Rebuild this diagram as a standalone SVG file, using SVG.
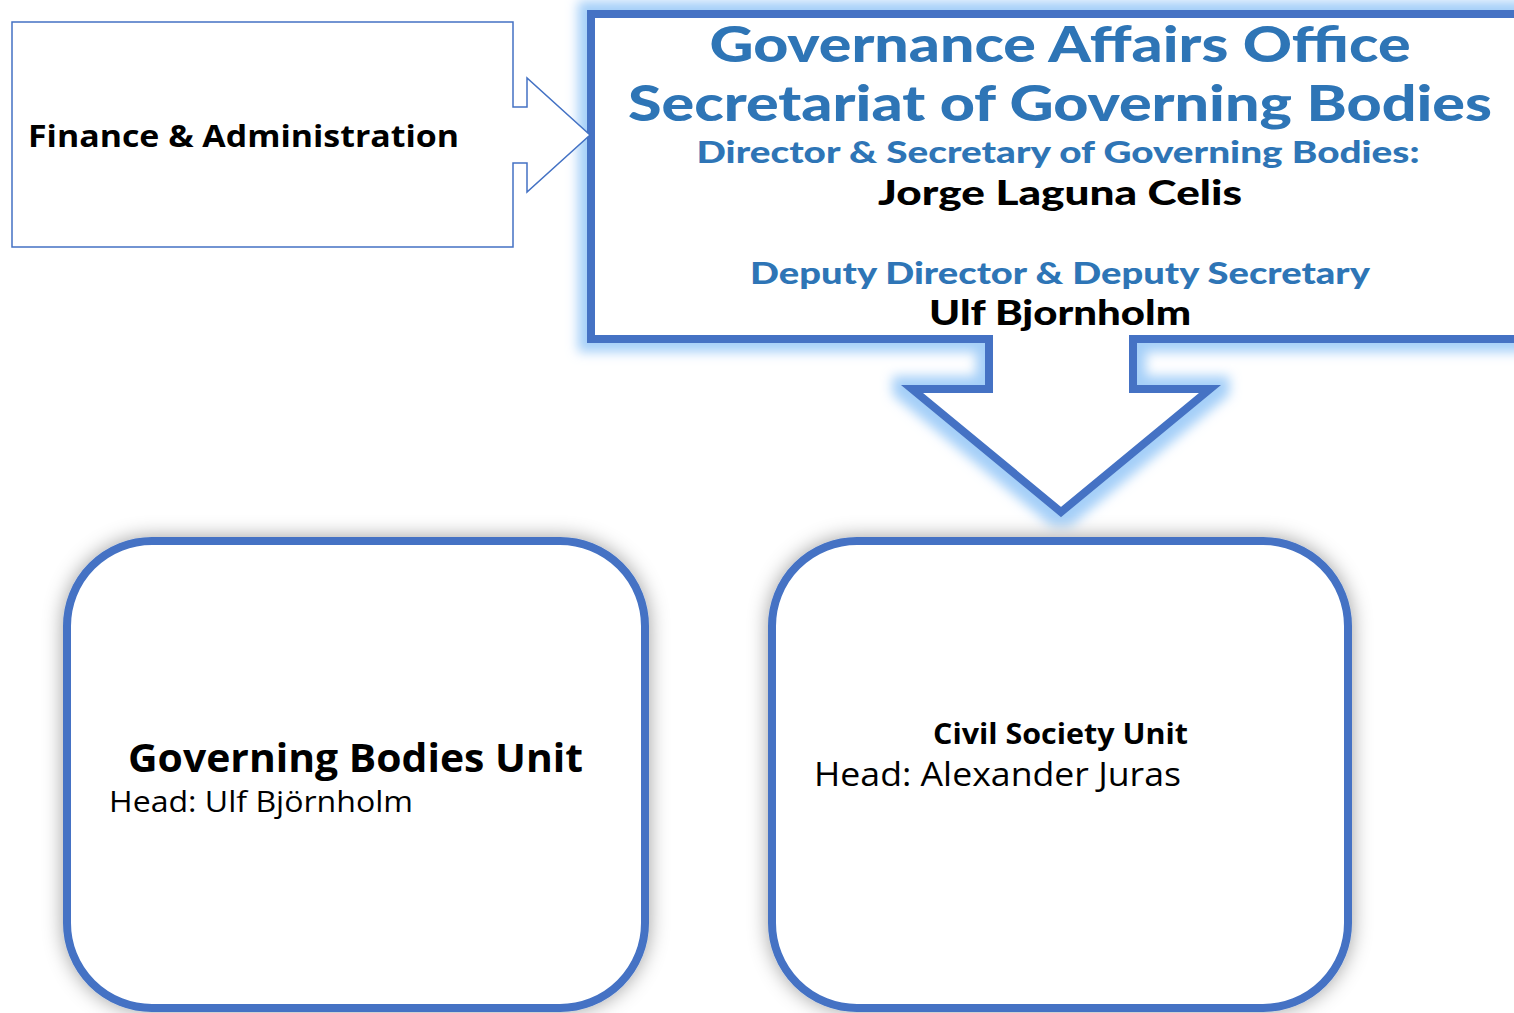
<svg xmlns="http://www.w3.org/2000/svg" width="1514" height="1013" viewBox="0 0 1514 1013">
<style>
.gt{font-family:Lato,"Noto Sans",sans-serif;font-weight:900;text-anchor:middle}
.blue{fill:#2E75B6}
.blk{fill:#000}
.cal{font-family:"Open Sans","Noto Sans",sans-serif;fill:#000}
.b{font-weight:bold}
.unit{fill:#fff;stroke:#4472C4;stroke-width:8}
</style>
<defs>
<filter id="glow" x="-10%" y="-20%" width="130%" height="150%">
<feMorphology in="SourceAlpha" operator="dilate" radius="9" result="d"/>
<feGaussianBlur in="d" stdDeviation="6" result="b"/>
<feFlood flood-color="#A4CFF8"/>
<feComposite in2="b" operator="in" result="g"/>
<feMerge><feMergeNode in="g"/><feMergeNode in="SourceGraphic"/></feMerge>
</filter>
<filter id="shadow" x="-10%" y="-10%" width="120%" height="120%">
<feGaussianBlur in="SourceAlpha" stdDeviation="10" result="b"/>
<feFlood flood-color="#000" flood-opacity="0.38"/>
<feComposite in2="b" operator="in" result="s"/>
<feMerge><feMergeNode in="s"/><feMergeNode in="SourceGraphic"/></feMerge>
</filter>
</defs>
<rect width="1514" height="1013" fill="#fff"/>

<g id="gao">
<path filter="url(#glow)" d="M591,14 H1530 V339 H1133 V389 H1210 L1061,512 L912,389 H989 V339 H591 Z" fill="#fff" stroke="#4472C4" stroke-width="8"/>
<text class="gt blue" x="1060" y="62" font-size="50" textLength="701" lengthAdjust="spacingAndGlyphs">Governance Affairs Office</text>
<text class="gt blue" x="1060" y="121" font-size="50" textLength="864" lengthAdjust="spacingAndGlyphs">Secretariat of Governing Bodies</text>
<text class="gt blue" x="1058" y="163" font-size="30" textLength="723" lengthAdjust="spacingAndGlyphs">Director &amp; Secretary of Governing Bodies:</text>
<text class="gt blk" x="1060" y="205" font-size="34" textLength="364" lengthAdjust="spacingAndGlyphs">Jorge Laguna Celis</text>
<text class="gt blue" x="1060" y="284" font-size="30" textLength="620" lengthAdjust="spacingAndGlyphs">Deputy Director &amp; Deputy Secretary</text>
<text class="gt blk" x="1060" y="325" font-size="34" textLength="262" lengthAdjust="spacingAndGlyphs">Ulf Bjornholm</text>
</g>

<g id="finance">
<path d="M12,22 H513 V107 H527 V78 L590,135 L527,192 V163 H513 V247 H12 Z" fill="#fff" stroke="#4472C4" stroke-width="1.5"/>
<text class="cal b" x="28" y="147" font-size="31" textLength="431" lengthAdjust="spacingAndGlyphs">Finance &amp; Administration</text>
</g>

<g id="gbu">
<rect class="unit" filter="url(#shadow)" x="67" y="541" width="578" height="467" rx="85" ry="85"/>
<text class="cal b" x="128" y="772" font-size="40" textLength="455" lengthAdjust="spacingAndGlyphs">Governing Bodies Unit</text>
<text class="cal" x="109" y="812" font-size="29" textLength="304" lengthAdjust="spacingAndGlyphs">Head: Ulf Björnholm</text>
</g>

<g id="csu">
<rect class="unit" filter="url(#shadow)" x="772" y="541" width="576" height="467" rx="85" ry="85"/>
<text class="cal b" x="933" y="744" font-size="29" textLength="255" lengthAdjust="spacingAndGlyphs">Civil Society Unit</text>
<text class="cal" x="814" y="786" font-size="32" textLength="367" lengthAdjust="spacingAndGlyphs">Head: Alexander Juras</text>
</g>

<g id="connectors"></g>
</svg>
